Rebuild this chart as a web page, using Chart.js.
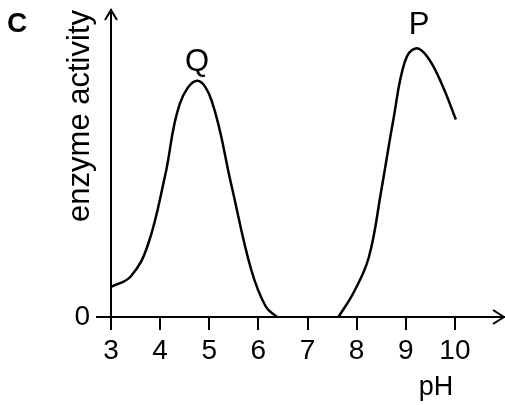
<!DOCTYPE html>
<html>
<head>
<meta charset="utf-8">
<script src="https://cdn.jsdelivr.net/npm/chart.js@4/dist/chart.umd.min.js"></script>
<style>
html, body { margin: 0; padding: 0; background: #fff; }
</style>
</head>
<body>
<canvas id="enzyme_chart" width="505" height="405"></canvas>
<script>
const ph_ticks = [3, 4, 5, 6, 7, 8, 9, 10]
const ph_q = [3.0, 3.4, 3.75, 4.1, 4.4, 4.75, 5.05, 5.45, 5.85, 6.15, 6.38]
const activity_q = [10, 13.5, 24, 47, 71, 78.7, 72, 44, 16, 3.5, 0]
const ph_p = [7.63, 7.95, 8.25, 8.5, 8.75, 8.98, 9.2, 9.45, 9.75, 10.02]
const activity_p = [0, 8.5, 20, 42, 66, 85, 89.5, 86.5, 77, 65.8]
const curve_names = ['Q', 'P']
const name_ph = [4.75, 9.27]
const name_activity = [84.9, 97.2]

const font = '"Liberation Sans", Arial, sans-serif'

const toPoints = (xs, ys) => xs.map((x, i) => ({ x: x, y: ys[i] }))

const lineStyle = {
    borderColor: '#000',
    borderWidth: 2.5,
    pointRadius: 0,
    fill: false,
    tension: 0.4
}

// arrow heads + labels that chart.js has no slot for
const decor = {
    id: 'decor',
    afterDraw(chart) {
        const { ctx, chartArea: a, scales: { x, y } } = chart
        ctx.save()
        ctx.strokeStyle = '#000'
        ctx.lineWidth = 2
        ctx.beginPath()
        ctx.moveTo(a.left - 6, a.top + 10)
        ctx.lineTo(a.left, a.top)
        ctx.lineTo(a.left + 6, a.top + 10)
        ctx.moveTo(a.right - 11, a.bottom - 7)
        ctx.lineTo(a.right, a.bottom)
        ctx.lineTo(a.right - 11, a.bottom + 7)
        // x axis runs a bit left of the y axis
        ctx.moveTo(a.left - 15, a.bottom)
        ctx.lineTo(a.left, a.bottom)
        ctx.stroke()

        ctx.fillStyle = '#000'
        ctx.textAlign = 'center'
        ctx.textBaseline = 'middle'
        ctx.font = '31px ' + font
        curve_names.forEach((n, i) => {
            ctx.fillText(n, x.getPixelForValue(name_ph[i]), y.getPixelForValue(name_activity[i]))
        })
        ctx.font = '27px ' + font
        ctx.fillText('pH', 436, 388)
        ctx.font = 'bold 28px ' + font
        ctx.fillText('C', 17, 24)
        ctx.restore()
    }
}

new Chart(document.querySelector('#enzyme_chart'), {
    type: 'line',
    data: {
        datasets: [
            Object.assign({ label: 'Q', data: toPoints(ph_q, activity_q) }, lineStyle),
            Object.assign({ label: 'P', data: toPoints(ph_p, activity_p) }, lineStyle)
        ]
    },
    options: {
        responsive: false,
        animation: false,
        layout: { padding: { top: 10, right: 1, left: 0, bottom: 0 } },
        plugins: {
            legend: { display: false },
            tooltip: { enabled: false }
        },
        scales: {
            x: {
                type: 'linear',
                min: 3,
                max: 11,
                afterFit: s => { s.height = 88; s.paddingLeft = 0; s.paddingRight = 0 },
                afterBuildTicks: s => { s.ticks = ph_ticks.map(v => ({ value: v })) },
                grid: { drawOnChartArea: false, tickLength: 13, color: '#000', lineWidth: 2 },
                border: { display: true, color: '#000', width: 2 },
                ticks: { color: '#000', font: { family: font, size: 28 }, padding: 4, maxRotation: 0, autoSkip: false }
            },
            y: {
                min: 0,
                max: 102.3,
                afterFit: s => { s.width = 111; s.paddingTop = 0; s.paddingBottom = 0 },
                afterBuildTicks: s => { s.ticks = [{ value: 0 }] },
                grid: { drawOnChartArea: false, tickLength: 15, color: '#000', lineWidth: 2 },
                border: { display: true, color: '#000', width: 2 },
                ticks: { color: '#000', font: { family: font, size: 28 }, padding: 6 },
                title: {
                    display: true,
                    text: 'enzyme activity',
                    align: 'end',
                    color: '#000',
                    font: { family: font, size: 31 },
                    padding: { top: 62 }
                }
            }
        }
    },
    plugins: [decor]
})
</script>
</body>
</html>
